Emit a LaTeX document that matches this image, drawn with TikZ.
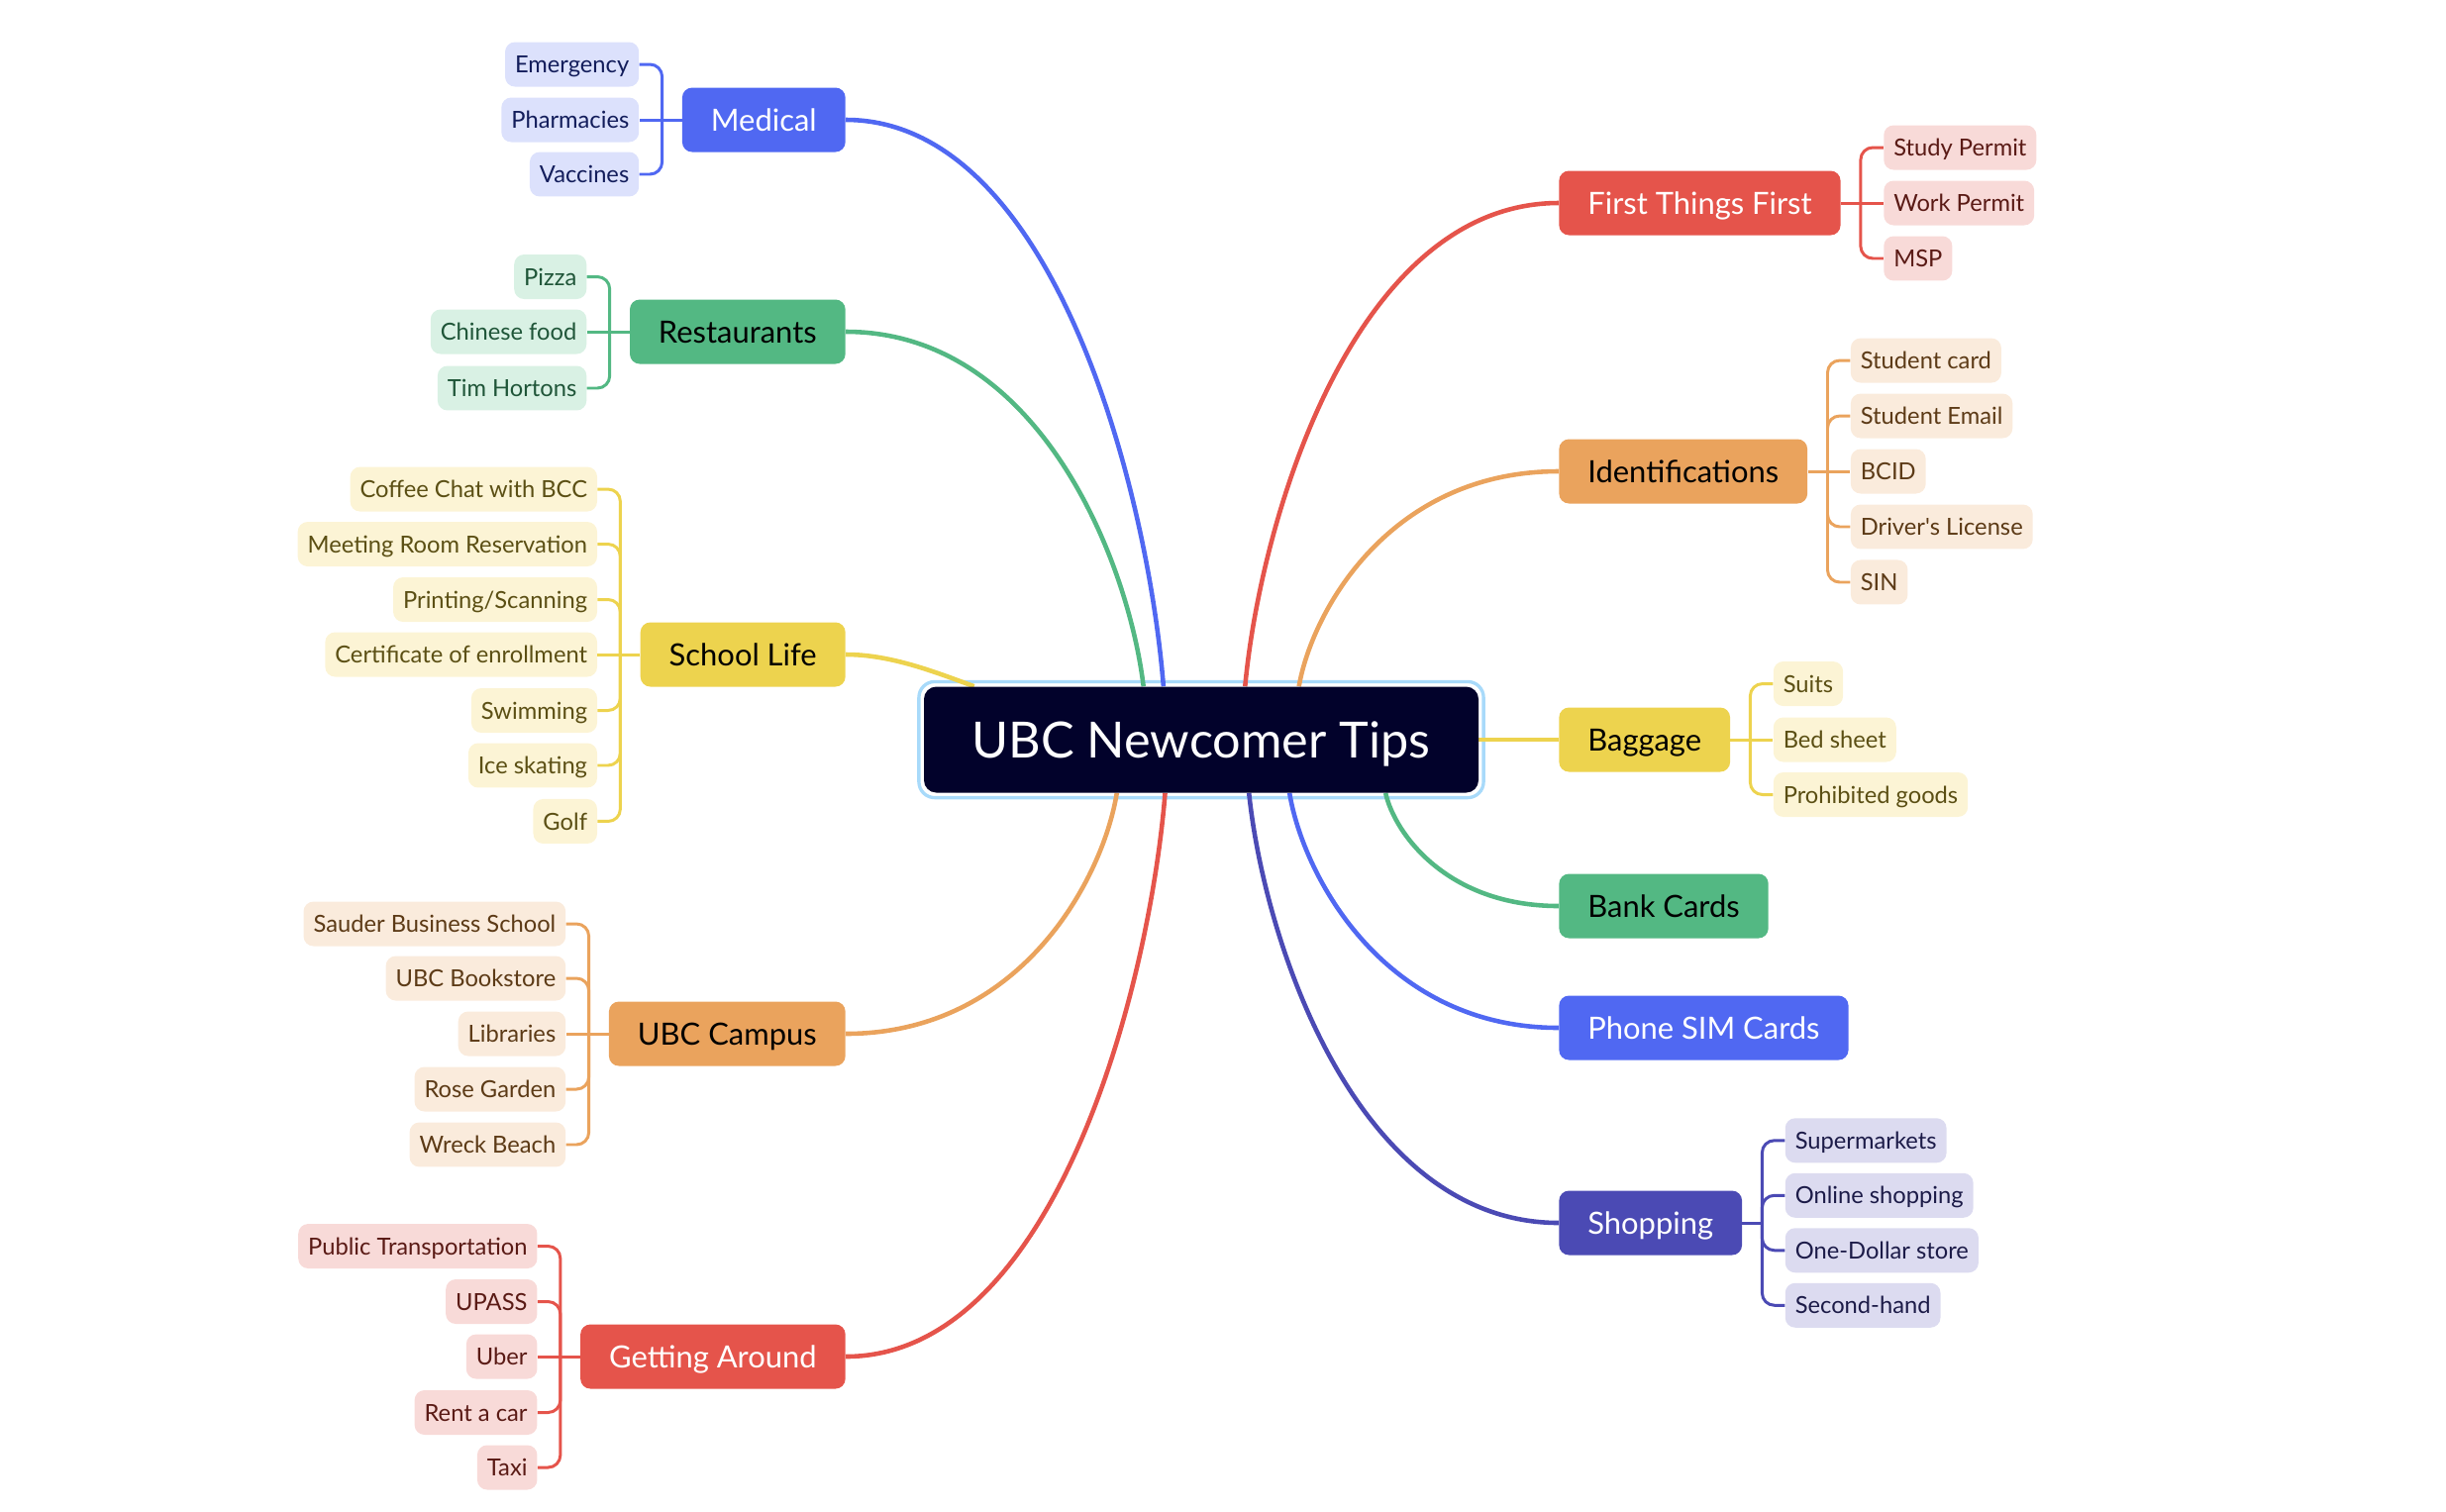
\documentclass[tikz,border=0pt]{standalone}
\usepackage{fontspec}
\setmainfont{Lato}
\usetikzlibrary{positioning,calc,backgrounds}
\definecolor{hubdark}{HTML}{02022B}
\definecolor{hubglow}{HTML}{A8DAFA}
\definecolor{redmain}{HTML}{E5544B}
\definecolor{redsoft}{HTML}{F8DAD8}
\definecolor{redtext}{HTML}{5A1A15}
\definecolor{orangemain}{HTML}{EAA35D}
\definecolor{orangesoft}{HTML}{FAEBDC}
\definecolor{orangetext}{HTML}{5C3A16}
\definecolor{yellowmain}{HTML}{EDD34E}
\definecolor{yellowsoft}{HTML}{FCF4D5}
\definecolor{yellowtext}{HTML}{5B4F14}
\definecolor{greenmain}{HTML}{53B883}
\definecolor{greensoft}{HTML}{D9F1E4}
\definecolor{greentext}{HTML}{1F5538}
\definecolor{bluemain}{HTML}{5068F2}
\definecolor{bluesoft}{HTML}{DCE1FC}
\definecolor{bluetext}{HTML}{131D5B}
\definecolor{indigomain}{HTML}{4B4AB4}
\definecolor{indigosoft}{HTML}{DCDBF0}
\definecolor{indigotext}{HTML}{1C1B48}

\tikzset{
  hub/.style={fill=hubdark,text=white,rounded corners=0.25cm,minimum height=2.14cm,inner xsep=0.97cm,inner ysep=0pt,text height=20.6pt,text depth=0pt,font=\fontsize{28.7}{32}\selectfont},
  topic/.style={rounded corners=0.2cm,minimum height=1.3cm,inner xsep=0.58cm,inner ysep=0pt,text height=12.6pt,text depth=0pt,font=\fontsize{17.6}{20}\selectfont},
  leaf/.style={rounded corners=0.2cm,minimum height=0.9cm,inner xsep=0.2cm,inner ysep=0pt,text height=9.7pt,text depth=0pt,font=\fontsize{13.5}{16}\selectfont},
  redleaf/.style={leaf,fill=redsoft,text=redtext},
  orangeleaf/.style={leaf,fill=orangesoft,text=orangetext},
  yellowleaf/.style={leaf,fill=yellowsoft,text=yellowtext},
  greenleaf/.style={leaf,fill=greensoft,text=greentext},
  blueleaf/.style={leaf,fill=bluesoft,text=bluetext},
  indigoleaf/.style={leaf,fill=indigosoft,text=indigotext},
  stemline/.style={line width=2.6pt},
  twig/.style={line width=1.7pt,rounded corners=7pt},
}

% curved line from the central topic to a main topic
\newcommand{\branchline}[3]{%
  \draw[stemline,#3] let \p1=(#1), \p2=(#2) in
    (\p1) .. controls ({\x1+0.05*(\x2-\x1)},{\y1+0.35*(\y2-\y1)}) and ({\x1+0.35*(\x2-\x1)},\y2) .. (\p2);}

\begin{document}
\begin{tikzpicture}[x=0.02cm,y=-0.02cm]
    \useasboundingbox (0,0) rectangle (2470,1526);

    % central topic
    \node[hub] (ubc) at (1213,747) {UBC Newcomer Tips};

    % main topics, right side
    \node[topic,fill=redmain,text=white,anchor=west] (ftf) at (1574,205) {First Things First};
    \node[topic,fill=orangemain,anchor=west] (ids) at (1574,476) {Identifications};
    \node[topic,fill=yellowmain,anchor=west] (bag) at (1574,747) {Baggage};
    \node[topic,fill=greenmain,anchor=west] (bank) at (1574,915) {Bank Cards};
    \node[topic,fill=bluemain,text=white,anchor=west] (sim) at (1574,1038) {Phone SIM Cards};
    \node[topic,fill=indigomain,text=white,anchor=west] (shop) at (1574,1235) {Shopping};

    % main topics, left side
    \node[topic,fill=bluemain,text=white,anchor=east] (med) at (854,121) {Medical};
    \node[topic,fill=greenmain,anchor=east] (food) at (854,335) {Restaurants};
    \node[topic,fill=yellowmain,anchor=east] (school) at (854,661) {School Life};
    \node[topic,fill=orangemain,anchor=east] (campus) at (854,1044) {UBC Campus};
    \node[topic,fill=redmain,text=white,anchor=east] (move) at (854,1370) {Getting Around};

    % First Things First
    \node[redleaf,right=0.86cm of ftf,yshift=1.12cm] (study) {Study Permit};
    \node[redleaf,right=0.86cm of ftf] (work) {Work Permit};
    \node[redleaf,right=0.86cm of ftf,yshift=-1.12cm] (msp) {MSP};
    \coordinate (ftfj) at ([xshift=0.4cm]ftf.east);
    \draw[twig,redmain] (ftf.east) -- (work.west);
    \foreach \leafname in {study,msp} \draw[twig,redmain] (ftfj) |- (\leafname.west);

    % Identifications
    \node[orangeleaf,right=0.86cm of ids,yshift=2.24cm] (card) {Student card};
    \node[orangeleaf,right=0.86cm of ids,yshift=1.12cm] (mail) {Student Email};
    \node[orangeleaf,right=0.86cm of ids] (bcid) {BCID};
    \node[orangeleaf,right=0.86cm of ids,yshift=-1.12cm] (licence) {Driver\textquotesingle s License};
    \node[orangeleaf,right=0.86cm of ids,yshift=-2.24cm] (sin) {SIN};
    \coordinate (idsj) at ([xshift=0.4cm]ids.east);
    \draw[twig,orangemain] (ids.east) -- (bcid.west);
    \foreach \leafname in {card,mail,licence,sin} \draw[twig,orangemain] (idsj) |- (\leafname.west);

    % Baggage
    \node[yellowleaf,right=0.86cm of bag,yshift=1.13cm] (suits) {Suits};
    \node[yellowleaf,right=0.86cm of bag] (sheet) {Bed sheet};
    \node[yellowleaf,right=0.86cm of bag,yshift=-1.11cm] (banned) {Prohibited goods};
    \coordinate (bagj) at ([xshift=0.4cm]bag.east);
    \draw[twig,yellowmain] (bag.east) -- (sheet.west);
    \foreach \leafname in {suits,banned} \draw[twig,yellowmain] (bagj) |- (\leafname.west);

    % Shopping
    \node[indigoleaf,right=0.86cm of shop,yshift=1.665cm] (market) {Supermarkets};
    \node[indigoleaf,right=0.86cm of shop,yshift=0.555cm] (online) {Online shopping};
    \node[indigoleaf,right=0.86cm of shop,yshift=-0.555cm] (dollar) {One-Dollar store};
    \node[indigoleaf,right=0.86cm of shop,yshift=-1.665cm] (used) {Second-hand};
    \coordinate (shopj) at ([xshift=0.4cm]shop.east);
    \draw[twig,indigomain] (shop.east) -- (shopj);
    \foreach \leafname in {market,online,dollar,used} \draw[twig,indigomain] (shopj) |- (\leafname.west);

    % Medical
    \node[blueleaf,left=0.86cm of med,yshift=1.12cm] (urgent) {Emergency};
    \node[blueleaf,left=0.86cm of med] (pharma) {Pharmacies};
    \node[blueleaf,left=0.86cm of med,yshift=-1.1cm] (vacc) {Vaccines};
    \coordinate (medj) at ([xshift=-0.4cm]med.west);
    \draw[twig,bluemain] (med.west) -- (pharma.east);
    \foreach \leafname in {urgent,vacc} \draw[twig,bluemain] (medj) |- (\leafname.east);

    % Restaurants
    \node[greenleaf,left=0.86cm of food,yshift=1.11cm] (pizza) {Pizza};
    \node[greenleaf,left=0.86cm of food] (chinese) {Chinese food};
    \node[greenleaf,left=0.86cm of food,yshift=-1.14cm] (tims) {Tim Hortons};
    \coordinate (foodj) at ([xshift=-0.4cm]food.west);
    \draw[twig,greenmain] (food.west) -- (chinese.east);
    \foreach \leafname in {pizza,tims} \draw[twig,greenmain] (foodj) |- (\leafname.east);

    % School Life
    \node[yellowleaf,left=0.86cm of school,yshift=3.34cm] (coffee) {Coffee Chat with BCC};
    \node[yellowleaf,left=0.86cm of school,yshift=2.23cm] (room) {Meeting Room Reservation};
    \node[yellowleaf,left=0.86cm of school,yshift=1.11cm] (print) {Printing/Scanning};
    \node[yellowleaf,left=0.86cm of school] (cert) {Certificate of enrollment};
    \node[yellowleaf,left=0.86cm of school,yshift=-1.13cm] (swim) {Swimming};
    \node[yellowleaf,left=0.86cm of school,yshift=-2.24cm] (skate) {Ice skating};
    \node[yellowleaf,left=0.86cm of school,yshift=-3.37cm] (golf) {Golf};
    \coordinate (schoolj) at ([xshift=-0.4cm]school.west);
    \draw[twig,yellowmain] (school.west) -- (cert.east);
    \foreach \leafname in {coffee,room,print,swim,skate,golf} \draw[twig,yellowmain] (schoolj) |- (\leafname.east);

    % UBC Campus
    \node[orangeleaf,left=0.86cm of campus,yshift=2.22cm] (sauder) {Sauder Business School};
    \node[orangeleaf,left=0.86cm of campus,yshift=1.12cm] (books) {UBC Bookstore};
    \node[orangeleaf,left=0.86cm of campus] (library) {Libraries};
    \node[orangeleaf,left=0.86cm of campus,yshift=-1.12cm] (rose) {Rose Garden};
    \node[orangeleaf,left=0.86cm of campus,yshift=-2.24cm] (wreck) {Wreck Beach};
    \coordinate (campusj) at ([xshift=-0.4cm]campus.west);
    \draw[twig,orangemain] (campus.west) -- (library.east);
    \foreach \leafname in {sauder,books,rose,wreck} \draw[twig,orangemain] (campusj) |- (\leafname.east);

    % Getting Around
    \node[redleaf,left=0.86cm of move,yshift=2.23cm] (transit) {Public Transportation};
    \node[redleaf,left=0.86cm of move,yshift=1.11cm] (upass) {UPASS};
    \node[redleaf,left=0.86cm of move] (uber) {Uber};
    \node[redleaf,left=0.86cm of move,yshift=-1.13cm] (rent) {Rent a car};
    \node[redleaf,left=0.86cm of move,yshift=-2.24cm] (taxi) {Taxi};
    \coordinate (movej) at ([xshift=-0.4cm]move.west);
    \draw[twig,redmain] (move.west) -- (uber.east);
    \foreach \leafname in {transit,upass,rent,taxi} \draw[twig,redmain] (movej) |- (\leafname.east);

    % glow and curved lines behind the topics
    \begin{scope}[on background layer]
      \draw[hubglow,line width=1.9pt,rounded corners=0.32cm] ([shift={(-0.095cm,0.095cm)}]ubc.north west) rectangle ([shift={(0.095cm,-0.095cm)}]ubc.south east);
      \branchline{$(ubc.north west)!0.396!(ubc.north east)$}{food.east}{greenmain}
      \branchline{$(ubc.north west)!0.432!(ubc.north east)$}{med.east}{bluemain}
      \branchline{$(ubc.north west)!0.579!(ubc.north east)$}{ftf.west}{redmain}
      \branchline{$(ubc.north west)!0.676!(ubc.north east)$}{ids.west}{orangemain}
      \branchline{$(ubc.south west)!0.348!(ubc.south east)$}{campus.east}{orangemain}
      \branchline{$(ubc.south west)!0.435!(ubc.south east)$}{move.east}{redmain}
      \branchline{$(ubc.south west)!0.586!(ubc.south east)$}{shop.west}{indigomain}
      \branchline{$(ubc.south west)!0.659!(ubc.south east)$}{sim.west}{bluemain}
      \branchline{$(ubc.south west)!0.832!(ubc.south east)$}{bank.west}{greenmain}
      \draw[stemline,yellowmain] ($(ubc.north west)!0.091!(ubc.north east)$) .. controls (945,679) and (900,661) .. (school.east);
      \draw[stemline,yellowmain] (ubc.east) -- (bag.west);
    \end{scope}
\end{tikzpicture}
\end{document}
